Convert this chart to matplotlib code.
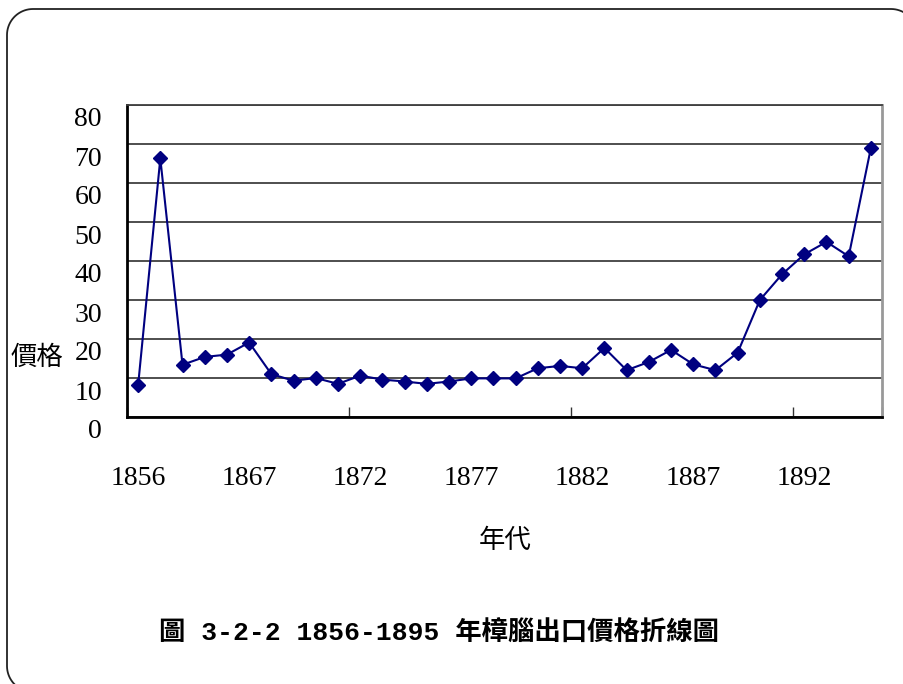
import matplotlib
matplotlib.use('Agg')
import numpy as np
import matplotlib.pyplot as plt
import matplotlib.transforms as mtransforms
from matplotlib.lines import Line2D

years = ['1856', '1863', '1864', '1865', '1866'] + [str(y) for y in range(1867, 1896)]
prices = [8.1, 66.3, 13.4, 15.4, 16.0, 19.1, 11.0, 9.3, 10.0, 8.5,
          10.6, 9.6, 9.1, 8.5, 9.1, 9.9, 9.9, 9.9, 12.5, 13.1,
          12.5, 17.7, 12.0, 14.1, 17.2, 13.5, 12.0, 16.5, 30.0, 36.6,
          41.7, 44.9, 41.2, 69.0]
yticks = [0, 10, 20, 30, 40, 50, 60, 70, 80]

serif = 'Liberation Serif'
cjk = 'Noto Sans CJK TC'

fig = plt.figure(figsize=(9.04, 6.84), dpi=100)


def arc(cx, cy, r, a0, a1):
    t = np.radians(np.linspace(a0, a1, 20))
    return list(cx + r * np.cos(t)), list(cy + r * np.sin(t))


# slide frame with rounded corners, as an open path in pixels
# (image coords, y down; it runs off the right and bottom edges)
r = 26
fx, fy = [], []
for seg in [arc(33, 692 - r, r, 90, 180), arc(33, 9 + r, r, 180, 270),
            arc(917 - r, 9 + r, r, 270, 360)]:
    fx += seg[0]
    fy += seg[1]
fx.append(917)
fy.append(720)
frame = Line2D(fx, [684 - v for v in fy], color='#222222', linewidth=1.3,
               transform=mtransforms.IdentityTransform())
fig.lines.append(frame)

ax = fig.add_axes([127 / 904, 1 - 417 / 684, 755 / 904, 312 / 684])
x = list(range(len(prices)))
ax.plot(x, prices, color='#000080', linewidth=1.5, marker='D',
        markersize=7, markerfacecolor='#000080', markeredgecolor='#000080',
        zorder=3)

ax.set_xlim(-0.5, len(prices) - 0.5)
ax.set_ylim(0, 80)

# y axis: gridlines, labels sit a bit below their lines
ax.set_yticks(yticks)
ax.set_yticklabels([str(v) for v in yticks], fontfamily=serif, fontsize=20)
ax.tick_params(axis='y', length=0, pad=18)
off = mtransforms.ScaledTranslation(0, -0.12, fig.dpi_scale_trans)
for lab in ax.get_yticklabels():
    lab.set_transform(lab.get_transform() + off)
ax.grid(axis='y', color='#404040', linewidth=1.3)

# x axis: tick marks every 10 categories, labels every 5
ax.set_xticks([-0.5 + 10 * k for k in range(4)] + [len(prices) - 0.5])
ax.set_xticklabels([])
ax.tick_params(axis='x', which='major', direction='in', length=7,
               width=1, color='#333333')
ax.set_xticks(list(range(0, len(prices), 5)), minor=True)
ax.set_xticklabels([years[i] for i in range(0, len(prices), 5)], minor=True,
                   fontfamily=serif, fontsize=20)
ax.tick_params(axis='x', which='minor', length=0, pad=35)

ax.spines['left'].set_color('black')
ax.spines['left'].set_linewidth(2)
ax.spines['bottom'].set_color('black')
ax.spines['bottom'].set_linewidth(2)
ax.spines['right'].set_color('#999999')
ax.spines['right'].set_linewidth(2)
ax.spines['top'].set_color('#404040')
ax.spines['top'].set_linewidth(1.3)

fig.text(37 / 904, 1 - 357 / 684, '價格', family=cjk, fontsize=19,
         ha='center', va='center')
fig.text(505 / 904, 1 - 540 / 684, '年代', family=cjk, fontsize=19,
         ha='center', va='center')
fig.text(439 / 904, 1 - 633 / 684, '圖 3-2-2 1856-1895 年樟腦出口價格折線圖',
         family=['Liberation Mono', cjk], fontweight='bold', fontsize=19,
         ha='center', va='center')

fig.savefig('out.png', dpi=100)
